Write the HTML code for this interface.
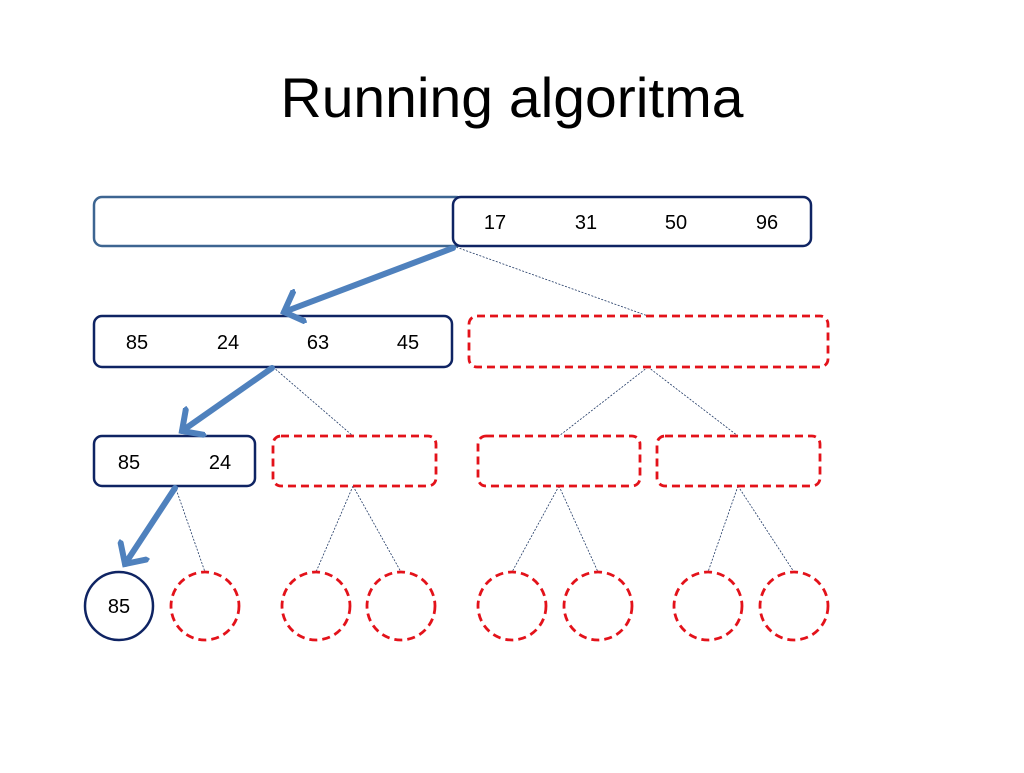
<!DOCTYPE html>
<html><head><meta charset="utf-8"><style>body{margin:0;background:#fff}</style></head><body>
<svg width="1024" height="768" xmlns="http://www.w3.org/2000/svg" font-family="Liberation Sans, sans-serif">
<defs>
<marker id="ah" markerWidth="6" markerHeight="6" refX="3" refY="3" orient="auto" markerUnits="strokeWidth">
<path d="M0.3,0.3 L3,3 L0.3,5.7" fill="none" stroke="#4f81bd" stroke-width="1" stroke-linecap="round"/>
</marker>
</defs>
<text x="512" y="117" font-size="56" text-anchor="middle" textLength="463" lengthAdjust="spacingAndGlyphs" fill="#000">Running algoritma</text>
<g fill="none" stroke="#1f3864" stroke-width="0.8" stroke-dasharray="2,1.5">
<line x1="453" y1="246" x2="648" y2="316"/>
<line x1="273" y1="367" x2="353" y2="436"/>
<line x1="648" y1="367" x2="559" y2="436"/>
<line x1="648" y1="367" x2="738" y2="436"/>
<line x1="175" y1="486" x2="205" y2="572"/>
<line x1="353" y1="486" x2="316" y2="572"/>
<line x1="353" y1="486" x2="401" y2="572"/>
<line x1="559" y1="486" x2="512" y2="572"/>
<line x1="559" y1="486" x2="598" y2="572"/>
<line x1="738" y1="486" x2="708" y2="572"/>
<line x1="738" y1="486" x2="794" y2="572"/>
</g>
<rect x="94" y="197" width="370" height="49" rx="8" fill="#fff" stroke="#3d6591" stroke-width="2.5"/>
<g fill="#fff" stroke="#0f2463" stroke-width="2.5">
<rect x="453" y="197" width="358" height="49" rx="8"/>
<rect x="94" y="316" width="358" height="51" rx="8"/>
<rect x="94" y="436" width="161" height="50" rx="8"/>
<circle cx="119" cy="606" r="34"/>
</g>
<g fill="#fff" stroke="#e3121a" stroke-width="2.8" stroke-dasharray="8,5">
<rect x="469" y="316" width="359" height="51" rx="8"/>
<rect x="273" y="436" width="163" height="50" rx="8"/>
<rect x="478" y="436" width="162" height="50" rx="8"/>
<rect x="657" y="436" width="163" height="50" rx="8"/>
<circle cx="205" cy="606" r="34"/>
<circle cx="316" cy="606" r="34"/>
<circle cx="401" cy="606" r="34"/>
<circle cx="512" cy="606" r="34"/>
<circle cx="598" cy="606" r="34"/>
<circle cx="708" cy="606" r="34"/>
<circle cx="794" cy="606" r="34"/>
</g>
<g stroke="#4f81bd" stroke-width="6" fill="none" stroke-linecap="round" marker-end="url(#ah)">
<line x1="453" y1="248" x2="284" y2="312"/>
<line x1="272" y1="368" x2="182" y2="431"/>
<line x1="175" y1="488" x2="125" y2="564"/>
</g>
<g font-size="20" fill="#000" text-anchor="middle">
<text x="495" y="229">17</text><text x="586" y="229">31</text><text x="676" y="229">50</text><text x="767" y="229">96</text>
<text x="137" y="349">85</text><text x="228" y="349">24</text><text x="318" y="349">63</text><text x="408" y="349">45</text>
<text x="129" y="469">85</text><text x="220" y="469">24</text>
<text x="119" y="613">85</text>
</g>
</svg>
</body></html>
